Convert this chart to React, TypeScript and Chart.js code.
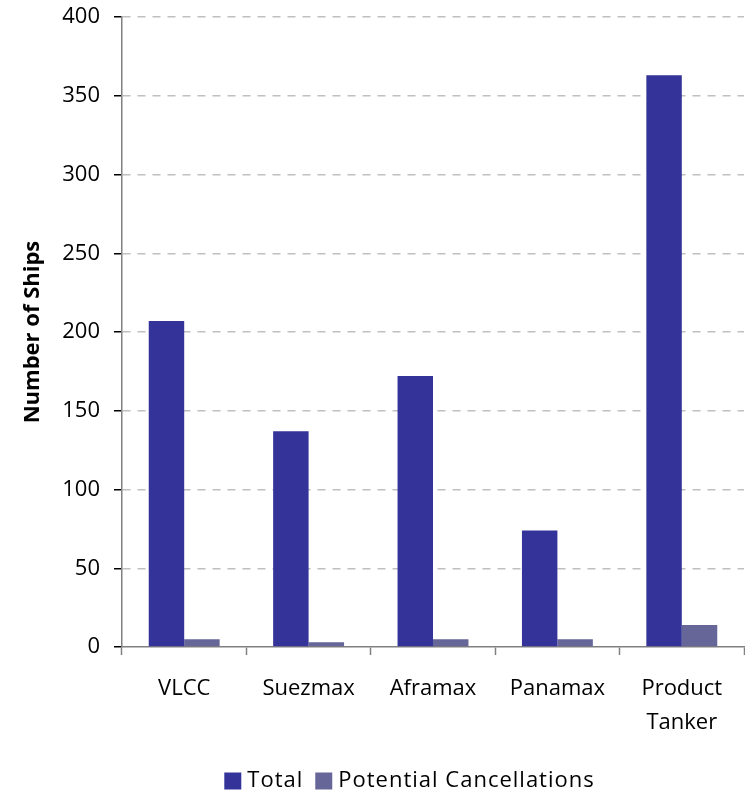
import React, { useEffect, useRef } from "react";
import { Chart, registerables } from "chart.js";

Chart.register(...registerables);

// Tanker orderbook by vessel class
const categories: (string | string[])[] = ["VLCC", "Suezmax", "Aframax", "Panamax", ["Product", "Tanker"]];
const totalShips = [207, 137, 172, 74, 363];
const potentialCancellations = [5, 3, 5, 5, 14];
const yTicks = [0, 50, 100, 150, 200, 250, 300, 350, 400];

const FONT = "'Open Sans', 'DejaVu Sans', sans-serif";
const LEGEND_SHIFT = 26;

// Moves the bottom legend sideways so it sits under the plot,
// and draws its labels with slightly wider letter spacing
const legendTweaks = {
  id: "legendTweaks",
  afterLayout(chart: any) {
    const lg = chart.legend;
    if (!lg) return;
    lg.left += LEGEND_SHIFT;
    lg.right += LEGEND_SHIFT;
    if (!lg._spaced) {
      const orig = lg.draw.bind(lg);
      lg.draw = (...args: any[]) => {
        const ctx: any = chart.ctx;
        const prev = ctx.letterSpacing;
        ctx.letterSpacing = "1px";
        orig(...args);
        ctx.letterSpacing = prev || "0px";
      };
      lg._spaced = true;
    }
  },
};

export default function App() {
  const ref = useRef<HTMLCanvasElement | null>(null);

  useEffect(() => {
    if (!ref.current) return;
    Chart.defaults.color = "#000";
    const chart = new Chart(ref.current, {
      type: "bar",
      data: {
        labels: categories,
        datasets: [
          {
            label: "Total",
            data: totalShips,
            backgroundColor: "#333399",
            borderWidth: 0,
            pointStyle: "rect",
          },
          {
            label: "Potential Cancellations",
            data: potentialCancellations,
            backgroundColor: "#666699",
            borderWidth: 0,
            pointStyle: "rect",
          },
        ],
      },
      options: {
        animation: false,
        responsive: false,
        maintainAspectRatio: false,
        layout: { padding: { top: 17, right: 1, left: 0, bottom: -7 } },
        datasets: {
          bar: { categoryPercentage: 0.57, barPercentage: 1 },
        },
        plugins: {
          tooltip: { enabled: false },
          legend: {
            position: "bottom",
            labels: {
              usePointStyle: true,
              pointStyle: "rect",
              boxWidth: 7,
              boxHeight: 17,
              padding: 17,
              color: "#000",
              font: { family: FONT, size: 22 },
            },
          },
        },
        scales: {
          x: {
            afterFit(scale: any) {
              scale.height = 106;
            },
            grid: {
              offset: true,
              drawOnChartArea: false,
              drawTicks: true,
              tickLength: 8,
              tickColor: "#808080",
              tickWidth: 1.5,
            },
            border: { color: "#808080", width: 1.5 },
            ticks: {
              padding: 17,
              color: "#000",
              maxRotation: 0,
              font: { family: FONT, size: 22, lineHeight: 1.55 },
            },
          },
          y: {
            min: 0,
            max: 400,
            afterFit(scale: any) {
              scale.width = 122;
              scale.paddingTop = 0;
              scale.paddingBottom = 0;
            },
            afterBuildTicks(scale: any) {
              scale.ticks = yTicks.map((v) => ({ value: v }));
            },
            grid: {
              color: (ctx: any) => (ctx.tick && ctx.tick.value === 0 ? "rgba(0,0,0,0)" : "#c0c0c0"),
              lineWidth: 1.5,
              tickLength: 8,
              tickColor: "#000",
              tickWidth: 1.5,
              tickBorderDash: [],
            },
            // dash applies to the horizontal gridlines; the axis line stays solid
            border: { color: "#808080", width: 1.5, dash: [8, 7] },
            ticks: {
              padding: 14,
              color: "#000",
              font: { family: FONT, size: 22 },
            },
            title: {
              display: true,
              text: "Number of Ships",
              color: "#000",
              padding: { top: 20, bottom: 4 },
              font: { family: FONT, size: 22, weight: "bold" },
            },
          },
        },
      },
      plugins: [legendTweaks],
    } as any);
    return () => chart.destroy();
  }, []);

  return (
    <div style={{ position: "absolute", left: 0, top: 0, width: 745, height: 795, background: "#fff" }}>
      <canvas ref={ref} width={745} height={795} style={{ display: "block", width: 745, height: 795 }} />
    </div>
  );
}
